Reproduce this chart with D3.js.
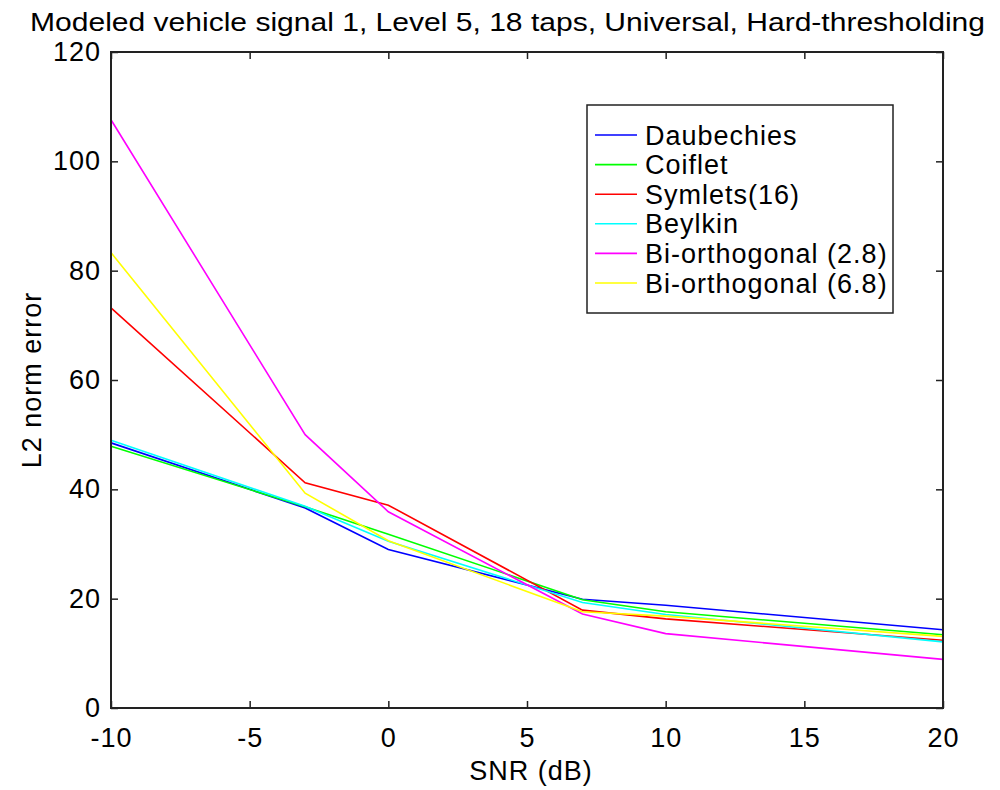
<!DOCTYPE html>
<html>
<head>
<meta charset="utf-8">
<script src="https://cdn.jsdelivr.net/npm/d3@7"></script>
<style>
  body { margin: 0; background: #fff; }
  svg { display: block; font-family: "Liberation Sans", Arial, sans-serif; }
</style>
</head>
<body>
<svg id="chart" width="1000" height="790"></svg>
<script>
// SNR levels (dB)
const snr = [-10, -3, 0, 7, 10, 20];

// L2 norm error per wavelet family
const daubechies = [48.5, 36.6, 29.0, 19.9, 18.8, 14.3];
const coiflet    = [47.9, 36.8, 31.8, 19.8, 17.6, 13.4];
const symlets16  = [73.2, 41.2, 37.1, 17.9, 16.3, 12.4];
const beylkin    = [49.0, 36.9, 30.5, 19.3, 17.1, 12.1];
const biorth28   = [107.6, 50.0, 35.9, 17.2, 13.6, 8.9];
const biorth68   = [83.3, 39.3, 30.6, 17.6, 16.8, 13.1];

const seriesNames  = ["Daubechies", "Coiflet", "Symlets(16)", "Beylkin", "Bi-orthogonal (2.8)", "Bi-orthogonal (6.8)"];
const seriesValues = [daubechies, coiflet, symlets16, beylkin, biorth28, biorth68];
const seriesColors = ["#0000ff", "#00ff00", "#ff0000", "#00ffff", "#ff00ff", "#ffff00"];

const xTicks = [-10, -5, 0, 5, 10, 15, 20];
const yTicks = [0, 20, 40, 60, 80, 100, 120];

const titleText = "Modeled vehicle signal 1, Level 5, 18 taps, Universal, Hard-thresholding";
const xLabel = "SNR (dB)";
const yLabel = "L2 norm error";

const svg = d3.select("#chart");
const plotL = 111, plotR = 943, plotT = 52, plotB = 708;
const fontSize = "27px";
const spacing = "1px";

const x = d3.scaleLinear().domain([-10, 20]).range([plotL, plotR]);
const y = d3.scaleLinear().domain([0, 120]).range([plotB, plotT]);

// data lines
const line = d3.line().x((d, i) => x(snr[i])).y(d => y(d));
const lines = svg.append("g");
seriesValues.forEach((vals, k) => {
  lines.append("path")
    .attr("d", line(vals))
    .attr("fill", "none")
    .attr("stroke", seriesColors[k])
    .attr("stroke-width", 1.6);
});

// axes box with inward ticks on all four sides
const tickLen = 7;
const plain = d => String(d);
const axisStyle = g => {
  g.select(".domain").remove();
  g.selectAll(".tick line").attr("stroke", "#222").attr("stroke-width", 1.5);
  g.selectAll(".tick text").attr("fill", "#000")
    .style("font-size", fontSize).style("letter-spacing", spacing)
    .style("font-family", "'Liberation Sans', Arial, sans-serif");
};

svg.append("g").attr("transform", `translate(0,${plotB})`)
  .call(d3.axisBottom(x).tickValues(xTicks).tickFormat(plain).tickSizeInner(-tickLen).tickSizeOuter(0).tickPadding(20))
  .call(axisStyle);
svg.append("g").attr("transform", `translate(0,${plotT})`)
  .call(d3.axisTop(x).tickValues(xTicks).tickSizeInner(-tickLen).tickSizeOuter(0).tickFormat(""))
  .call(axisStyle);
svg.append("g").attr("transform", `translate(${plotL},0)`)
  .call(d3.axisLeft(y).tickValues(yTicks).tickFormat(plain).tickSizeInner(-tickLen).tickSizeOuter(0).tickPadding(10))
  .call(axisStyle);
svg.append("g").attr("transform", `translate(${plotR},0)`)
  .call(d3.axisRight(y).tickValues(yTicks).tickSizeInner(-tickLen).tickSizeOuter(0).tickFormat(""))
  .call(axisStyle);

svg.append("rect")
  .attr("x", plotL).attr("y", plotT)
  .attr("width", plotR - plotL).attr("height", plotB - plotT)
  .attr("fill", "none").attr("stroke", "#222").attr("stroke-width", 2);

// title and axis labels
svg.append("text")
  .attr("x", 30).attr("y", 31)
  .attr("textLength", 955).attr("lengthAdjust", "spacingAndGlyphs")
  .style("font-size", "26px")
  .text(titleText);

svg.append("text")
  .attr("x", (plotL + plotR) / 2 + 4).attr("y", 780)
  .attr("text-anchor", "middle")
  .style("font-size", fontSize).style("letter-spacing", spacing)
  .text(xLabel);

svg.append("text")
  .attr("transform", `translate(41,${(plotT + plotB) / 2}) rotate(-90)`)
  .attr("text-anchor", "middle")
  .style("font-size", fontSize).style("letter-spacing", spacing)
  .text(yLabel);

// legend
const lg = svg.append("g");
lg.append("rect")
  .attr("x", 587).attr("y", 105).attr("width", 306).attr("height", 208)
  .attr("fill", "#fff").attr("stroke", "#222").attr("stroke-width", 1.5);
seriesNames.forEach((name, k) => {
  const cy = 135 + k * 29.6;
  lg.append("line")
    .attr("x1", 595).attr("x2", 637).attr("y1", cy).attr("y2", cy)
    .attr("stroke", seriesColors[k]).attr("stroke-width", 1.6);
  lg.append("text")
    .attr("x", 645).attr("y", cy + 9.5)
    .style("font-size", fontSize).style("letter-spacing", spacing)
    .text(name);
});
</script>
</body>
</html>
